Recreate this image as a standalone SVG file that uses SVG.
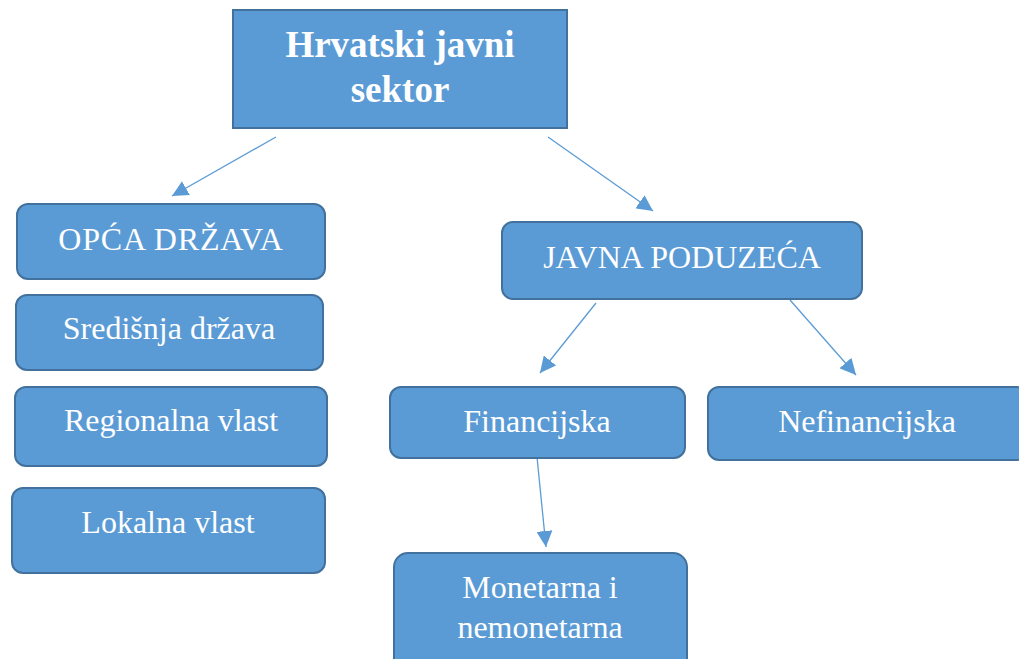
<svg xmlns="http://www.w3.org/2000/svg" width="1019" height="659" viewBox="0 0 1019 659">
<style>
.box{fill:#5b9bd5;stroke:#41719c;stroke-width:2}
.t{font-family:"Liberation Serif","Times New Roman",serif;font-size:32px;fill:#fff;text-anchor:middle}
.u{letter-spacing:0.8px}
.tb{font-family:"Liberation Serif","Times New Roman",serif;font-size:37px;font-weight:bold;fill:#fff;text-anchor:middle}
.c{stroke:#5b9bd5;stroke-width:1.3;fill:none;marker-end:url(#ah)}
</style>
<defs>
<marker id="ah" markerUnits="userSpaceOnUse" markerWidth="18" markerHeight="16" refX="16" refY="8" orient="auto">
<path d="M0,0 L16,8 L0,16 Z" fill="#5b9bd5"/>
</marker>
</defs>
<rect width="1019" height="659" fill="#fff"/>
<g id="connectors">
<line class="c" x1="276" y1="137" x2="172" y2="196"/>
<line class="c" x1="548" y1="137" x2="653" y2="211"/>
<line class="c" x1="596" y1="303" x2="540" y2="373"/>
<line class="c" x1="790" y1="300" x2="856" y2="375"/>
<line class="c" x1="537" y1="457" x2="546" y2="547"/>
</g>
<g id="root">
<rect class="box" x="233" y="10" width="334" height="118"/>
<text class="tb" x="400" y="57">Hrvatski javni</text>
<text class="tb" x="400" y="102">sektor</text>
</g>
<g id="opca">
<rect class="box" x="17" y="204" width="308" height="75" rx="11"/>
<text class="t u" x="171" y="250">OPĆA DRŽAVA</text>
</g>
<g id="sredisnja">
<rect class="box" x="16" y="295" width="307" height="75" rx="11"/>
<text class="t" x="169" y="339">Središnja država</text>
</g>
<g id="regionalna">
<rect class="box" x="15" y="387" width="312" height="79" rx="11"/>
<text class="t" x="171" y="431">Regionalna vlast</text>
</g>
<g id="lokalna">
<rect class="box" x="12" y="488" width="313" height="85" rx="11"/>
<text class="t" x="168" y="533">Lokalna vlast</text>
</g>
<g id="javna">
<rect class="box" x="502" y="222" width="360" height="77" rx="11"/>
<text class="t" x="682" y="268">JAVNA PODUZEĆA</text>
</g>
<g id="financijska">
<rect class="box" x="390" y="387" width="295" height="71" rx="11"/>
<text class="t" x="537" y="432">Financijska</text>
</g>
<g id="nefinancijska">
<rect class="box" x="708" y="387" width="320" height="73" rx="11"/>
<text class="t" x="867" y="432">Nefinancijska</text>
</g>
<g id="monetarna">
<rect class="box" x="394" y="553" width="293" height="120" rx="14"/>
<text class="t" x="540" y="598">Monetarna i</text>
<text class="t" x="540" y="638">nemonetarna</text>
</g>
</svg>
